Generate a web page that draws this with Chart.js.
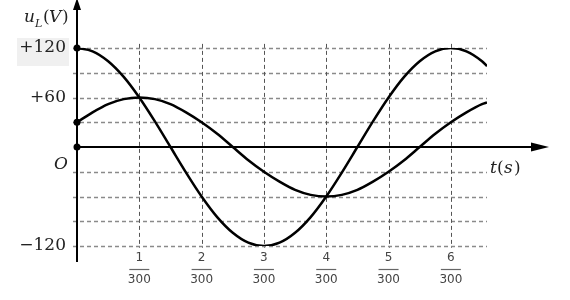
<!DOCTYPE html>
<html>
<head>
<meta charset="utf-8">
<script src="https://cdn.jsdelivr.net/npm/chart.js@4"></script>
<style>
  html, body { margin: 0; padding: 0; background: #fff; }
  #wrap { width: 570px; height: 300px; }
</style>
</head>
<body>
<div id="wrap"><canvas id="c"></canvas></div>
<script>
// time in units of 1/300 s
const times = [0, 0.25, 0.5, 0.75, 1, 1.25, 1.5, 1.75, 2, 2.25, 2.5, 2.75, 3, 3.25, 3.5, 3.75,
  4, 4.25, 4.5, 4.75, 5, 5.25, 5.5, 5.75, 6, 6.25, 6.5, 6.58]
const bigWave = [120, 116, 104, 85, 60, 31, 0, -31, -60, -85, -104, -116, -120, -116, -104, -85,
  -60, -31, 0, 31, 60, 85, 104, 116, 120, 116, 104, 98]
const smallWave = [30, 42, 52, 58, 60, 58, 52, 42, 30, 16, 0, -16, -30, -42, -52, -58,
  -60, -58, -52, -42, -30, -16, 0, 16, 30, 42, 52, 54]
const xTicks = [1, 2, 3, 4, 5, 6]
const xTickLabels = ['1', '2', '3', '4', '5', '6']
const yGrid = [-120, -90, -60, -30, 30, 60, 90, 120]
const yLabels = [{ v: 120, text: '+120' }, { v: 60, text: '+60' }, { v: -120, text: '\u2212120' }]
const dots = [120, 30, 0]

const toPoints = (ys) => times.map((t, i) => ({ x: t, y: ys[i] }))

const decor = {
  id: 'decor',
  beforeDatasetsDraw(chart) {
    const { ctx, scales: { x, y } } = chart
    ctx.save()
    // horizontal grid
    ctx.strokeStyle = '#8a8a8a'
    ctx.lineWidth = 1.3
    ctx.setLineDash([4, 3])
    yGrid.forEach(v => {
      const py = Math.round(y.getPixelForValue(v)) + 0.5
      ctx.beginPath()
      ctx.moveTo(73, py)
      ctx.lineTo(x.getPixelForValue(6.58), py)
      ctx.stroke()
    })
    // vertical grid
    ctx.strokeStyle = '#555'
    ctx.lineWidth = 1
    ctx.setLineDash([4, 3])
    xTicks.forEach(v => {
      const px = Math.round(x.getPixelForValue(v)) + 0.5
      ctx.beginPath()
      ctx.moveTo(px, y.getPixelForValue(125))
      ctx.lineTo(px, y.getPixelForValue(-122))
      ctx.stroke()
    })
    ctx.setLineDash([])
    ctx.restore()
  },
  afterDatasetsDraw(chart) {
    const { ctx, scales: { x, y } } = chart
    const x0 = x.getPixelForValue(0)
    const y0 = y.getPixelForValue(0)
    ctx.save()
    ctx.strokeStyle = '#000'
    ctx.fillStyle = '#000'
    ctx.lineWidth = 2
    // y axis
    ctx.beginPath()
    ctx.moveTo(x0, 262)
    ctx.lineTo(x0, 6)
    ctx.stroke()
    ctx.beginPath()
    ctx.moveTo(x0, -2)
    ctx.lineTo(x0 - 4, 10)
    ctx.lineTo(x0 + 4, 10)
    ctx.closePath()
    ctx.fill()
    // x axis
    ctx.beginPath()
    ctx.moveTo(x0, y0)
    ctx.lineTo(535, y0)
    ctx.stroke()
    ctx.beginPath()
    ctx.moveTo(549, y0)
    ctx.lineTo(531, y0 - 4.5)
    ctx.lineTo(531, y0 + 4.5)
    ctx.closePath()
    ctx.fill()
    // dots on y axis
    dots.forEach(v => {
      ctx.beginPath()
      ctx.arc(x0, y.getPixelForValue(v), 3.5, 0, Math.PI * 2)
      ctx.fill()
    })
    // y labels
    ctx.fillStyle = '#f0f0f0'
    ctx.fillRect(17, 38, 52, 28)
    ctx.fillStyle = '#222'
    ctx.font = '17px "DejaVu Serif", serif'
    ctx.textAlign = 'right'
    ctx.textBaseline = 'middle'
    yLabels.forEach(l => {
      ctx.fillText(l.text, 66, y.getPixelForValue(l.v))
    })
    ctx.font = 'italic 17px "DejaVu Serif", serif'
    ctx.fillText('O', 68, 165)
    // axis titles
    ctx.textAlign = 'left'
    ctx.fillText('u', 24, 18)
    ctx.font = 'italic 11px "DejaVu Serif", serif'
    ctx.fillText('L', 35, 24)
    ctx.font = '17px "DejaVu Serif", serif'
    ctx.fillText('(', 43, 18)
    ctx.font = 'italic 17px "DejaVu Serif", serif'
    ctx.fillText('V', 49, 18)
    ctx.font = '17px "DejaVu Serif", serif'
    ctx.fillText(')', 62, 18)
    ctx.font = 'italic 17px "DejaVu Serif", serif'
    ctx.fillText('t', 490, 169)
    ctx.font = '17px "DejaVu Serif", serif'
    ctx.fillText('(', 497, 169)
    ctx.font = 'italic 17px "DejaVu Serif", serif'
    ctx.fillText('s', 504, 169)
    ctx.font = '17px "DejaVu Serif", serif'
    ctx.fillText(')', 514, 169)
    // x tick fractions
    ctx.textAlign = 'center'
    ctx.fillStyle = '#444'
    ctx.strokeStyle = '#666'
    ctx.lineWidth = 1.2
    xTicks.forEach((v, i) => {
      const px = x.getPixelForValue(v)
      ctx.font = '12px "DejaVu Sans", sans-serif'
      ctx.fillText(xTickLabels[i], px, 258)
      ctx.beginPath()
      ctx.moveTo(px - 10, 269.5)
      ctx.lineTo(px + 10, 269.5)
      ctx.stroke()
      ctx.fillText('300', px, 280)
    })
    ctx.restore()
  }
}

new Chart(document.getElementById('c'), {
  type: 'line',
  data: {
    datasets: [
      { data: toPoints(bigWave), borderColor: '#000', borderWidth: 2.5, pointRadius: 0, cubicInterpolationMode: 'monotone', fill: false },
      { data: toPoints(smallWave), borderColor: '#000', borderWidth: 2.5, pointRadius: 0, cubicInterpolationMode: 'monotone', fill: false }
    ]
  },
  options: {
    responsive: true,
    maintainAspectRatio: false,
    animation: false,
    layout: { padding: { left: 77, right: 83, top: 48, bottom: 54 } },
    plugins: { legend: { display: false }, tooltip: { enabled: false } },
    scales: {
      x: { type: 'linear', min: 0, max: 6.58, display: false },
      y: { min: -120, max: 120, display: false }
    }
  },
  plugins: [decor]
})
</script>
</body>
</html>
